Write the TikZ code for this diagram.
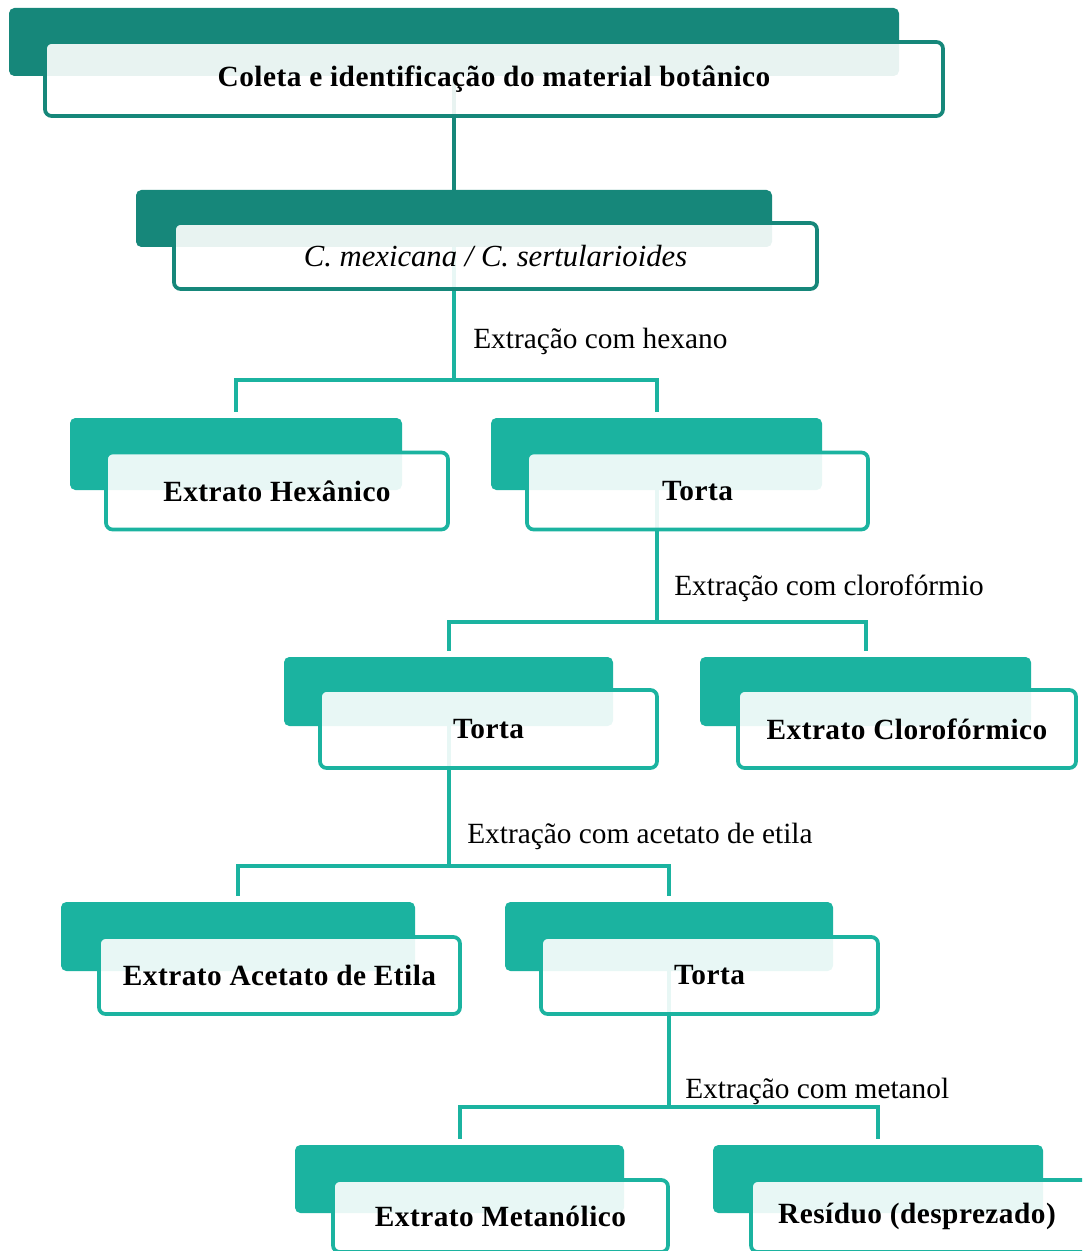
\documentclass[tikz,border=0pt]{standalone}
\usepackage{tikz}
\usepackage{fontspec}
\setmainfont{Liberation Serif}
\pgfdeclarelayer{bg}
\pgfsetlayers{bg,main}
\definecolor{dk}{HTML}{16877A}
\definecolor{lt}{HTML}{1BB3A0}
\tikzset{
  bkbox/.style={draw=none, fill=#1, rounded corners=4pt, inner sep=0pt},
  frbox/.style={draw=#1, line width=2.8pt, fill=white, fill opacity=0.9, text opacity=1,
    rounded corners=5pt, inner sep=0pt, font=\fontsize{22}{26}\selectfont\bfseries\addfontfeatures{LetterSpace=1.6}},
  sz/.style 2 args={minimum width=#1*0.75pt, minimum height=#2*0.75pt},
  conn/.style={draw=#1, line width=3pt},
  lab/.style={anchor=west, inner sep=0pt, font=\fontsize{22}{26}\selectfont}
}
\begin{document}
\begin{tikzpicture}[x=0.75pt,y=-0.75pt]
\useasboundingbox (0,0) rectangle (1082,1251);
\clip (0,0) rectangle (1082,1251);

% level 1
\node[bkbox=dk, sz={890}{68}] (b1) at (454,42) {};
\node[frbox=dk, sz={898}{74}] (f1) at (494,79) {Coleta e identificação do material botânico};
% level 2
\node[bkbox=dk, sz={636}{57}] (b2) at (454,218.5) {};
\node[frbox=dk, sz={643}{66}, font=\fontsize{23}{27}\selectfont\itshape] (f2) at (495.5,256) {C. mexicana / C. sertularioides};
% level 3
\node[bkbox=lt, sz={332}{72}] (b3) at (236,454) {};
\node[frbox=lt, sz={342}{77}] (f3) at (277,491) {Extrato Hexânico};
\node[bkbox=lt, sz={331}{72}] (b4) at (656.5,454) {};
\node[frbox=lt, sz={341}{77}] (f4) at (697.5,491) {Torta};
% level 4
\node[bkbox=lt, sz={329}{69}] (b5) at (448.5,691.5) {};
\node[frbox=lt, sz={337}{78}] (f5) at (488.5,729) {Torta};
\node[bkbox=lt, sz={331}{69}] (b6) at (865.5,691.5) {};
\node[frbox=lt, sz={338}{78}] (f6) at (907,729) {Extrato Clorofórmico};
% level 5
\node[bkbox=lt, sz={354}{69}] (b7) at (238,936.5) {};
\node[frbox=lt, sz={361}{77}] (f7) at (279.5,975.5) {Extrato Acetato de Etila};
\node[bkbox=lt, sz={328}{69}] (b8) at (669,936.5) {};
\node[frbox=lt, sz={337}{77}] (f8) at (709.5,975.5) {Torta};
% level 6
\node[bkbox=lt, sz={329}{68}] (b9) at (459.5,1179) {};
\node[frbox=lt, sz={335}{72}] (f9) at (500.5,1216) {Extrato Metanólico};
\node[bkbox=lt, sz={330}{68}] (b10) at (878,1179) {};
\node[frbox=lt, sz={339}{72}, text width=332*0.75pt, align=center] (f10) at (920.5,1216) {};
\node[inner sep=0pt, font=\fontsize{22}{26}\selectfont\bfseries\addfontfeatures{LetterSpace=1.6}] (t10) at (917,1216) {Resíduo (desprezado)};

% labels
\node[lab] (l1) at (473,341) {Extração com hexano};
\node[lab] (l2) at (674,588) {Extração com clorofórmio};
\node[lab] (l3) at (467,836) {Extração com acetato de etila};
\node[lab] (l4) at (685,1091) {Extração com metanol};

% connectors
\begin{pgfonlayer}{bg}
\draw[conn=dk] (b1.center) -- (b1.center |- b2.north);
\draw[conn=lt] (b2.center) -- (b2.center |- 0,380);
\draw[conn=lt, shorten <=4.5pt, shorten >=4.5pt] (b3.north) |- (b2.center |- 0,380) -| (b4.north);
\draw[conn=lt] (b4.center) -- (b4.center |- 0,622);
\draw[conn=lt, shorten <=4.5pt, shorten >=4.5pt] (b5.north) |- (b4.center |- 0,622) -| (b6.north);
\draw[conn=lt] (b5.center) -- (b5.center |- 0,866);
\draw[conn=lt, shorten <=4.5pt, shorten >=4.5pt] (b7.north) |- (b5.center |- 0,866) -| (b8.north);
\draw[conn=lt] (b8.center) -- (b8.center |- 0,1107);
\draw[conn=lt, shorten <=4.5pt, shorten >=4.5pt] (b9.north) |- (b8.center |- 0,1107) -| (b10.north);
\end{pgfonlayer}
\end{tikzpicture}
\end{document}
